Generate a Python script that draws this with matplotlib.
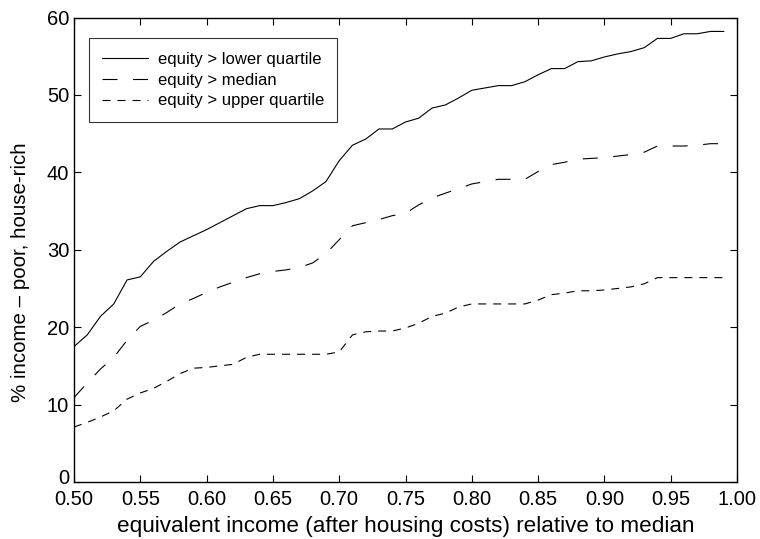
import matplotlib.pyplot as plt
import matplotlib.transforms as mtransforms
import numpy as np

plt.rcParams['font.family'] = ['Liberation Sans', 'DejaVu Sans']

# income relative to median, steps of 0.01
income = np.round(np.arange(0.50, 0.995, 0.01), 2)

equity_lower_q = [17.5, 19.0, 21.4, 23.0, 26.1, 26.5, 28.5, 29.8, 31.0, 31.8,
                  32.6, 33.5, 34.4, 35.3, 35.7, 35.7, 36.1, 36.6, 37.6, 38.8,
                  41.5, 43.5, 44.3, 45.6, 45.6, 46.5, 47.0, 48.3, 48.7, 49.6,
                  50.6, 50.9, 51.2, 51.2, 51.7, 52.6, 53.4, 53.4, 54.3, 54.4,
                  54.9, 55.3, 55.6, 56.1, 57.3, 57.3, 57.9, 57.9, 58.2, 58.2]

equity_median = [10.9, 12.8, 14.6, 16.1, 18.3, 20.1, 20.9, 21.9, 23.0, 23.7,
                 24.5, 25.2, 25.8, 26.4, 26.9, 27.2, 27.4, 27.7, 28.3, 29.5,
                 31.3, 33.1, 33.5, 33.9, 34.4, 34.7, 35.8, 36.7, 37.3, 37.9,
                 38.5, 38.8, 39.1, 39.1, 39.1, 40.1, 41.0, 41.3, 41.7, 41.8,
                 41.9, 42.1, 42.3, 42.6, 43.4, 43.4, 43.4, 43.5, 43.7, 43.7]

equity_upper_q = [7.1, 7.7, 8.4, 9.2, 10.7, 11.5, 12.1, 13.0, 14.0, 14.7,
                  14.8, 15.0, 15.2, 16.1, 16.5, 16.5, 16.5, 16.5, 16.5, 16.5,
                  16.8, 19.0, 19.4, 19.5, 19.5, 19.9, 20.5, 21.4, 21.8, 22.6,
                  23.0, 23.0, 23.0, 23.0, 23.0, 23.5, 24.2, 24.4, 24.7, 24.7,
                  24.8, 25.0, 25.2, 25.6, 26.4, 26.4, 26.4, 26.4, 26.4, 26.4]

fig = plt.figure(figsize=(7.6, 5.39), dpi=100)
ax = fig.add_axes([74 / 760, 1 - 482 / 539, 663 / 760, 464.5 / 539])

ax.plot(income, equity_lower_q, color='black', lw=0.8, label='equity > lower quartile')
ax.plot(income, equity_median, color='black', lw=0.8, dashes=(13.5, 14),
        label='equity > median')
ax.plot(income, equity_upper_q, color='black', lw=0.8, dashes=(7.2, 6.3),
        label='equity > upper quartile')

ax.set_xlim(0.5, 1.0)
ax.set_ylim(0, 60)
ax.set_xticks(np.arange(0.5, 1.001, 0.05))
ax.set_xticklabels(['%.2f' % v for v in np.arange(0.5, 1.001, 0.05)])
ax.set_yticks(range(0, 61, 10))

ax.tick_params(direction='in', top=True, right=True, length=5, width=0.8,
               labelsize=14.5)
ax.tick_params(axis='x', pad=5.5)
ax.tick_params(axis='y', pad=3.5)
for s in ax.spines.values():
    s.set_linewidth(1.0)

# lift the "0" label a little so it clears the 0.50 below it
zero_lbl = ax.get_yticklabels()[0]
zero_lbl.set_transform(zero_lbl.get_transform() +
                       mtransforms.ScaledTranslation(0, 4 / 72, fig.dpi_scale_trans))

ax.set_xlabel('equivalent income (after housing costs) relative to median',
              fontsize=16.2, labelpad=5)
ax.set_ylabel('% income \u2013 poor, house-rich', fontsize=14.8)
ax.yaxis.set_label_coords(-0.066, 0.452)

leg = ax.legend(loc='upper left', bbox_to_anchor=(0.022, 0.955), fontsize=12,
                frameon=True, fancybox=False, edgecolor='black',
                handlelength=2.75, handletextpad=0.6, borderpad=0.8,
                labelspacing=0.35, borderaxespad=0)
leg.get_frame().set_linewidth(0.8)

fig.savefig('out.png', dpi=100)
